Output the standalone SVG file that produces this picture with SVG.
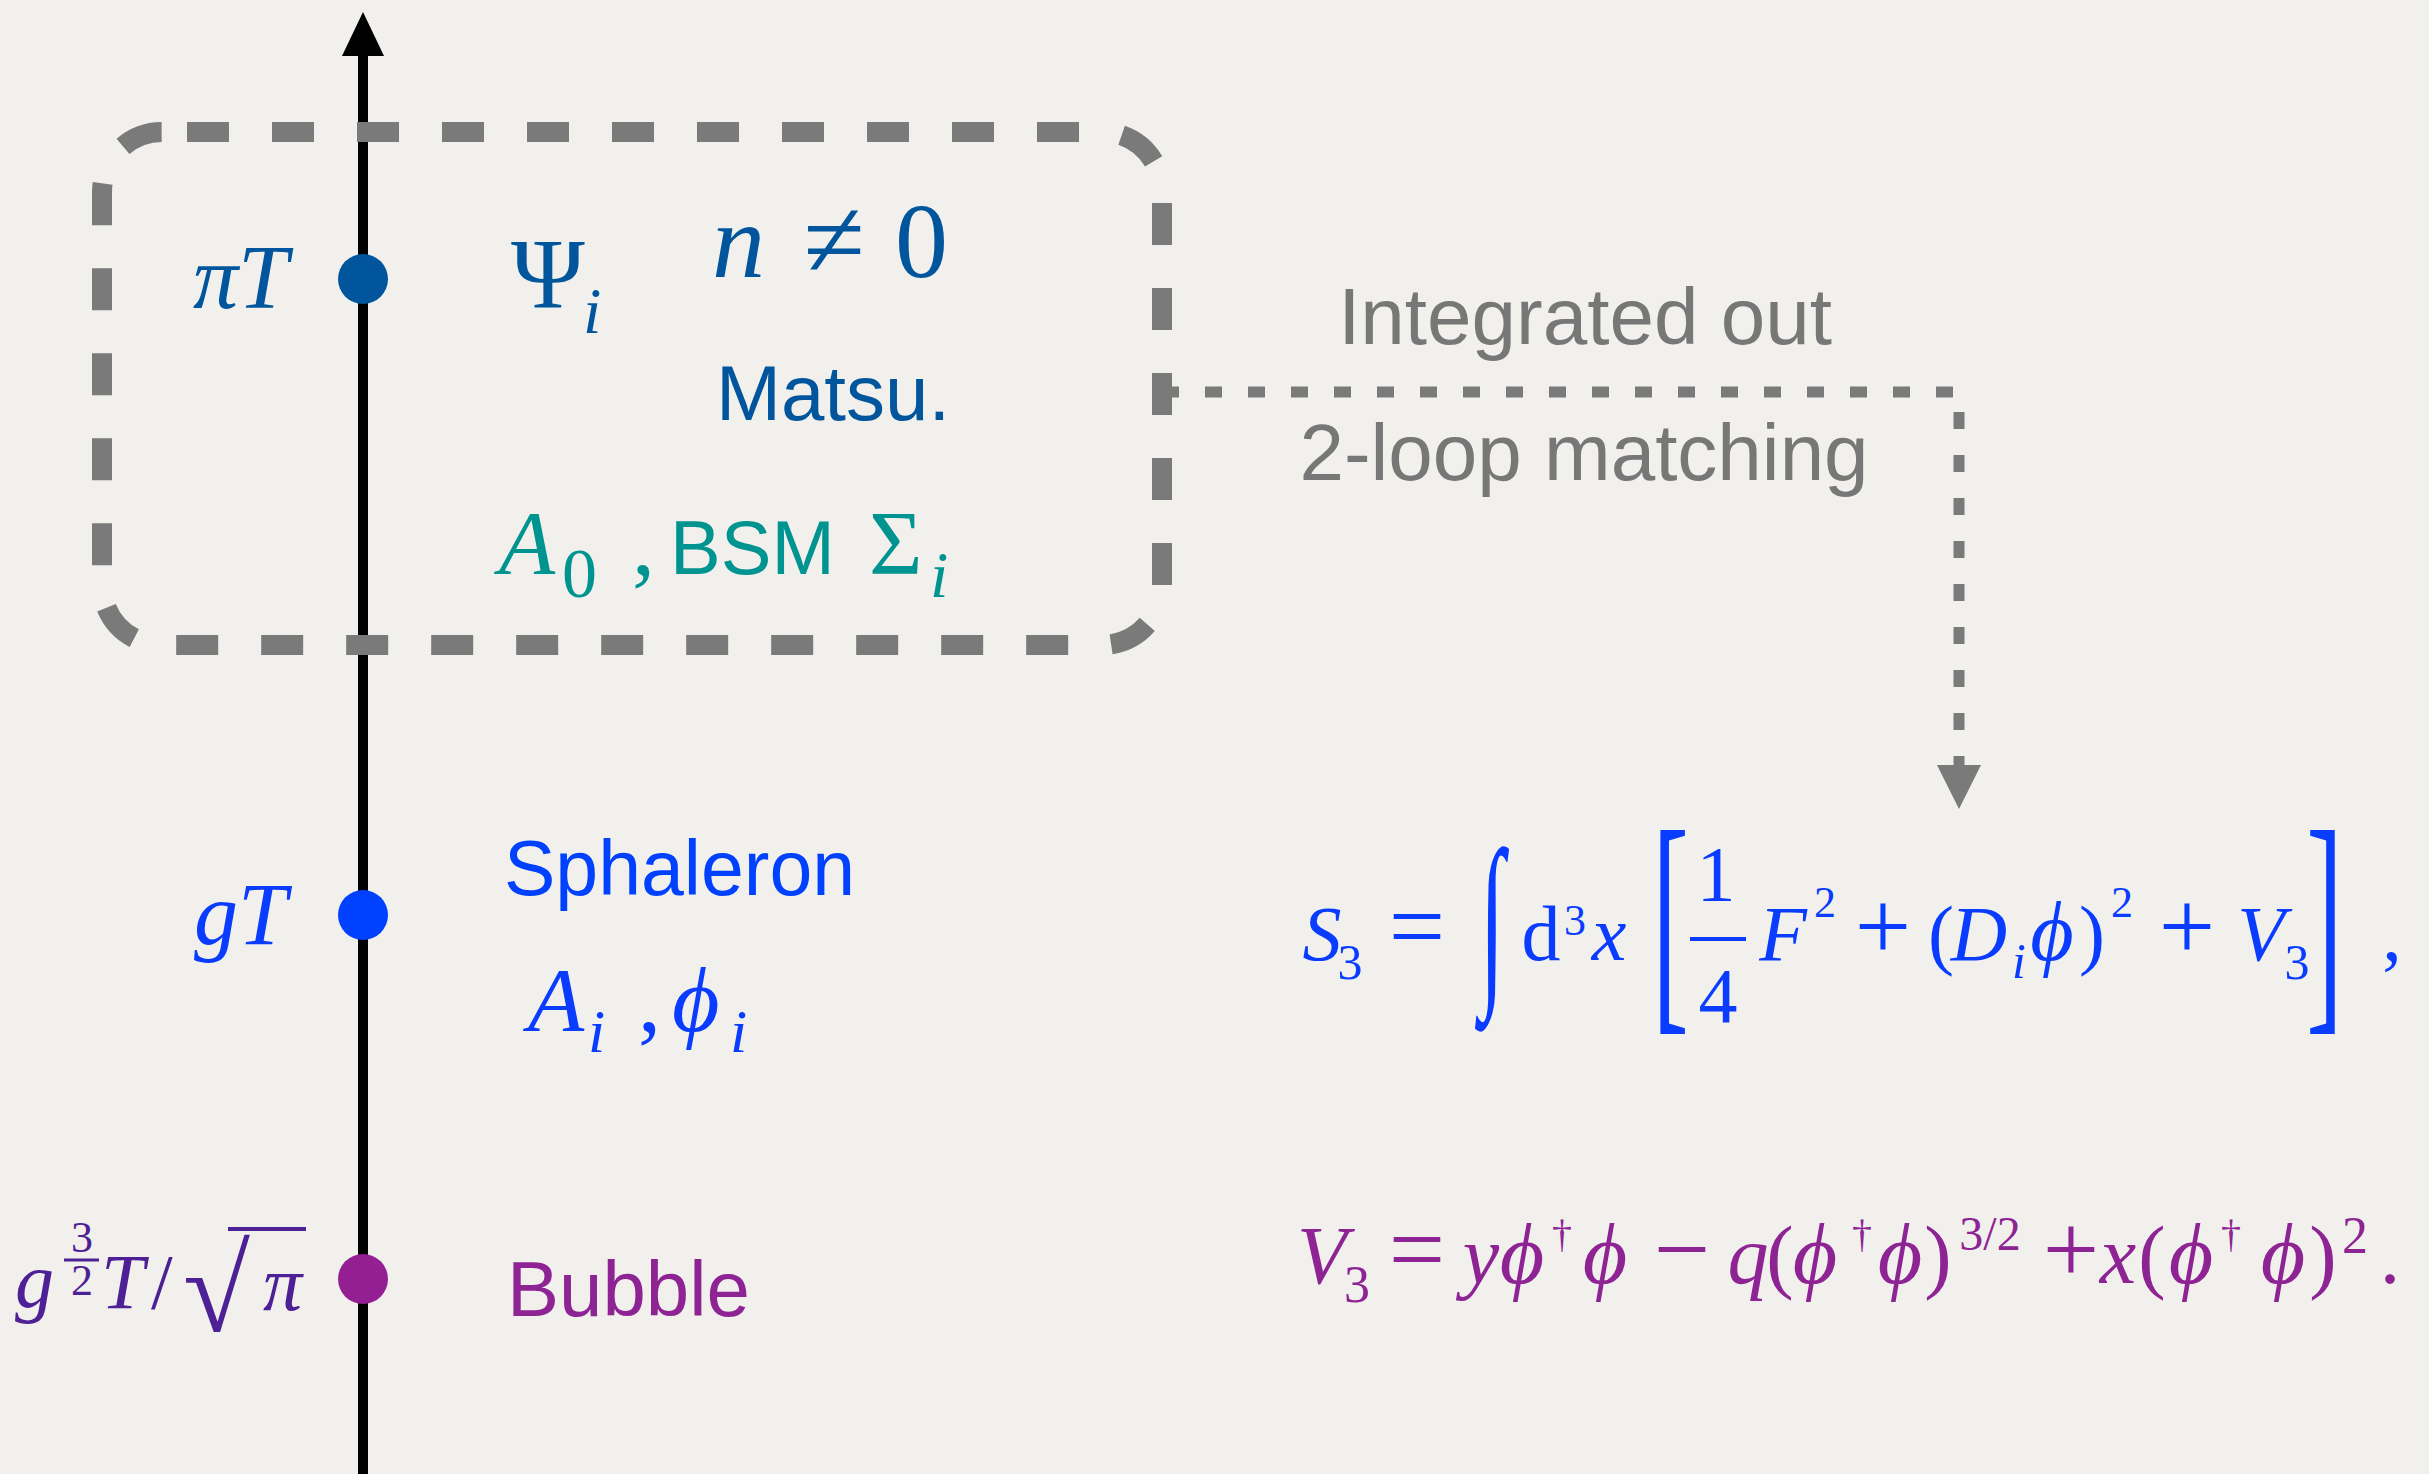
<svg xmlns="http://www.w3.org/2000/svg" width="2429" height="1474" viewBox="0 0 2429 1474">
<style>
.m{font-family:"Liberation Serif","DejaVu Serif",serif;}
.it{font-style:italic;}
.s{font-family:"Liberation Sans",Arial,sans-serif;}
.c{text-anchor:middle;}
.gray{fill:#777777;}
.dk{fill:#00559c;}
.teal{fill:#009490;}
.bl{fill:#0a3cff;}
.pu{fill:#8e2394;}
.ind{fill:#4e2095;}
</style>
<rect x="0" y="0" width="2429" height="1474" fill="#f1f0ed"/>
<g id="axis">
<line x1="363" y1="50" x2="363" y2="1474" stroke="#000" stroke-width="10"/>
<polygon points="363,12 342,56 384,56" fill="#000"/>
</g>
<g id="box">
<rect x="102" y="132" width="1060" height="513" rx="60" ry="60" fill="none" stroke="#7a7a7a" stroke-width="20" stroke-dasharray="42 43" stroke-dashoffset="60"/>
</g>
<g id="connectors">
<path d="M1162,392 H1959 V765" fill="none" stroke="#7a7a7a" stroke-width="11" stroke-dasharray="17 26"/>
<polygon points="1937,765 1981,765 1959,809" fill="#7a7a7a"/>
<text class="s gray" x="1585" y="344" font-size="80" text-anchor="middle">Integrated out</text>
<text class="s gray" x="1584" y="480" font-size="80" text-anchor="middle">2-loop matching</text>
</g>
<g id="node-piT">
<circle cx="363" cy="279" r="25" fill="#00559c"/>
<text class="m it dk" x="193" y="308" font-size="90">πT</text>
<text class="m dk" x="511" y="307" font-size="100">Ψ</text>
<text class="m it dk" x="583" y="333" font-size="66">i</text>
<text class="m it dk" x="712" y="277" font-size="106">n</text>
<text class="m dk" x="834" y="277" font-size="112" text-anchor="middle">≠</text>
<text class="m dk" x="895" y="277" font-size="106">0</text>
<text class="s dk" x="716" y="420" font-size="78">Matsu.</text>
<text class="m it teal" x="499" y="574" font-size="92">A</text>
<text class="m teal" x="562" y="597" font-size="70">0</text>
<text class="m teal" x="632" y="574" font-size="92">,</text>
<text class="s teal" x="670" y="574" font-size="76">BSM</text>
<text class="m teal" x="869" y="574" font-size="92">Σ</text>
<text class="m it teal" x="930" y="597" font-size="66">i</text>
</g>
<g id="node-gT">
<circle cx="363" cy="915" r="25" fill="#0040ff"/>
<text class="m it bl" x="194" y="944" font-size="88">gT</text>
<text class="s" x="504" y="895" font-size="77" fill="#0040ff">Sphaleron</text>
<text class="m it bl" x="528" y="1031" font-size="92">A</text>
<text class="m it bl" x="588" y="1052" font-size="62">i</text>
<text class="m bl" x="638" y="1031" font-size="92">,</text>
<text class="m it bl" x="672" y="1031" font-size="92">ϕ</text>
<text class="m it bl" x="730" y="1052" font-size="62">i</text>
</g>
<g id="node-bubble">
<circle cx="363" cy="1279" r="25" fill="#931f93"/>
<text class="s pu" x="507" y="1316" font-size="78">Bubble</text>
<text class="m it ind" x="15" y="1307" font-size="78">g</text>
<text class="m ind" x="82" y="1252" font-size="44" text-anchor="middle">3</text>
<line x1="64" y1="1260" x2="99" y2="1260" stroke="#4e2095" stroke-width="3"/>
<text class="m ind" x="82" y="1295" font-size="44" text-anchor="middle">2</text>
<text class="m it ind" x="101" y="1308" font-size="78">T</text>
<text class="m ind" x="151" y="1308" font-size="78">/</text>
<text class="m ind" x="183" y="1331" font-size="122">√</text>
<line x1="228" y1="1229" x2="306" y2="1229" stroke="#4e2095" stroke-width="4"/>
<text class="m it ind" x="263" y="1310" font-size="78">π</text>
</g>
<g id="eq-S3" class="m bl">
<text class="it c" x="1322" y="960" font-size="78">S</text>
<text class="c" x="1350" y="979" font-size="50">3</text>
<text class="c" x="1417" y="960" font-size="100">=</text>
<text class="c" transform="translate(1492,980.5) scale(1,2.1)" font-size="90">∫</text>
<text class="c" x="1541" y="960" font-size="78">d</text>
<text class="c" x="1575" y="935" font-size="44">3</text>
<text class="it c" x="1609" y="960" font-size="78">x</text>
<text transform="translate(1652.3,1000.5) scale(1,2.234)" font-size="110">[</text>
<text class="c" x="1716" y="900" font-size="78">1</text>
<line x1="1690" y1="939" x2="1746" y2="939" stroke="#0a3cff" stroke-width="4"/>
<text class="c" x="1718" y="1022" font-size="78">4</text>
<text class="it c" x="1783" y="960" font-size="78">F</text>
<text class="c" x="1825" y="917" font-size="44">2</text>
<text class="c" x="1883" y="960" font-size="100">+</text>
<text class="c" x="1941" y="960" font-size="78">(</text>
<text class="it c" x="1979" y="960" font-size="78">D</text>
<text class="it c" x="2019" y="978" font-size="50">i</text>
<text class="it c" x="2052" y="960" font-size="84">ϕ</text>
<text class="c" x="2092" y="960" font-size="78">)</text>
<text class="c" x="2122" y="917" font-size="44">2</text>
<text class="c" x="2187" y="960" font-size="100">+</text>
<text class="it c" x="2261" y="960" font-size="78">V</text>
<text class="c" x="2297" y="979" font-size="50">3</text>
<text transform="translate(2306.3,1000.5) scale(1,2.234)" font-size="110">]</text>
<text class="c" x="2392" y="960" font-size="78">,</text>
</g>
<g id="eq-V3" class="m pu">
<text class="it c" x="1322" y="1283" font-size="82">V</text>
<text class="c" x="1357" y="1302" font-size="52">3</text>
<text class="c" x="1417" y="1283" font-size="100">=</text>
<text class="it c" x="1481" y="1283" font-size="82">y</text>
<text class="it c" x="1522" y="1283" font-size="86">ϕ</text>
<text class="c" x="1562" y="1247" font-size="40">†</text>
<text class="it c" x="1605" y="1283" font-size="86">ϕ</text>
<text class="c" x="1682" y="1283" font-size="100">−</text>
<text class="it c" x="1748" y="1283" font-size="82">q</text>
<text class="c" x="1780" y="1283" font-size="82">(</text>
<text class="it c" x="1815" y="1283" font-size="86">ϕ</text>
<text class="c" x="1862" y="1247" font-size="40">†</text>
<text class="it c" x="1900" y="1283" font-size="86">ϕ</text>
<text class="c" x="1938" y="1283" font-size="82">)</text>
<text class="c" x="1990" y="1250" font-size="48">3/2</text>
<text class="c" x="2071" y="1283" font-size="100">+</text>
<text class="it c" x="2118" y="1283" font-size="82">x</text>
<text class="c" x="2152" y="1283" font-size="82">(</text>
<text class="it c" x="2191" y="1283" font-size="86">ϕ</text>
<text class="c" x="2231" y="1247" font-size="40">†</text>
<text class="it c" x="2283" y="1283" font-size="86">ϕ</text>
<text class="c" x="2323" y="1283" font-size="82">)</text>
<text class="c" x="2355" y="1253" font-size="52">2</text>
<text class="c" x="2390" y="1283" font-size="82">.</text>
</g>
</svg>
